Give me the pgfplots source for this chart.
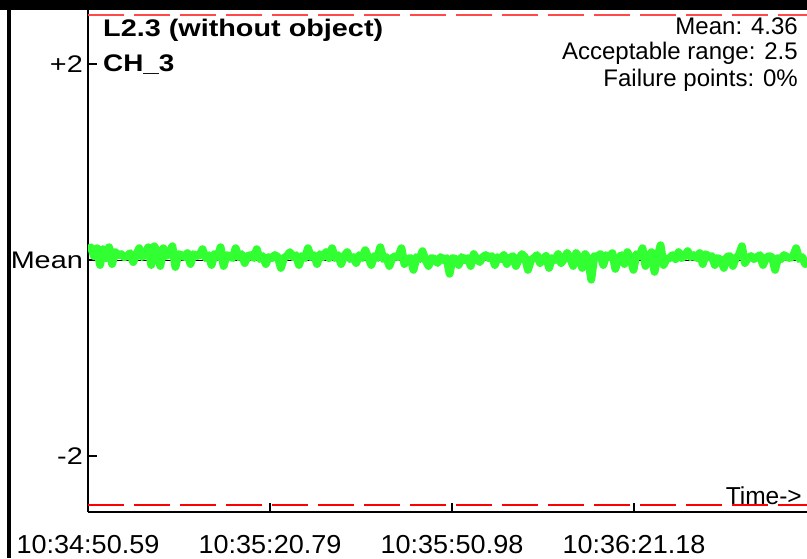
\documentclass[border=0pt]{standalone}
\usepackage{graphicx}
\usepackage{pgfplots}
\pgfplotsset{compat=1.18}
\usepackage{fontspec}
\setmainfont{Liberation Sans}
\definecolor{sig}{RGB}{50,255,50}
\definecolor{lim}{RGB}{255,40,40}
\newcommand{\sx}[2]{\scalebox{#1}[1]{#2}}
\pgfplotstableread{
x y
0.0 0.10
0.5 0.13
1.0 0.04
1.5 0.12
2.0 -0.05
2.5 0.11
3.0 0.02
3.5 0.13
4.0 -0.04
4.5 0.08
5.0 0.05
5.5 0.06
6.0 0.03
6.5 0.04
7.0 0.07
7.5 -0.02
8.0 0.05
8.5 0.12
9.0 0.03
9.5 0.06
10.0 0.13
10.5 -0.05
11.0 0.14
11.5 0.08
12.0 -0.06
12.5 0.12
13.0 0.04
13.5 0.07
14.0 0.14
14.5 -0.07
15.0 0.06
15.5 0.05
16.0 0.03
16.5 0.07
17.0 -0.04
17.5 0.06
18.0 0.04
18.5 0.05
19.0 0.11
19.5 0.02
20.0 0.05
20.5 -0.05
21.0 0.06
21.5 0.03
22.0 0.13
22.5 -0.06
23.0 0.05
23.5 0.04
24.0 0.02
24.5 0.12
25.0 0.03
25.5 0.06
26.0 -0.03
26.5 0.04
27.0 0.05
27.5 0.02
28.0 0.11
28.5 0.01
29.0 0.04
29.5 -0.04
30.0 0.03
30.5 0.02
31.0 0.05
31.5 0.03
32.0 -0.08
32.5 0.02
33.0 0.04
33.5 0.08
34.0 0.03
34.5 0.05
35.0 -0.05
35.5 0.04
36.0 0.02
36.5 0.12
37.0 0.03
37.5 0.05
38.0 -0.04
38.5 0.06
39.0 0.03
39.5 0.08
40.0 0.02
40.5 0.12
41.0 0.02
41.5 0.05
42.0 -0.04
42.5 0.04
43.0 0.08
43.5 0.01
44.0 0.03
44.5 -0.03
45.0 0.05
45.5 0.02
46.0 0.10
46.5 0.03
47.0 -0.05
47.5 0.04
48.0 0.02
48.5 0.13
49.0 0.01
49.5 0.03
50.0 -0.06
50.5 0.02
51.0 0.04
51.5 0.03
52.0 0.12
52.5 -0.04
53.0 0.01
53.5 0.02
54.0 -0.10
54.5 0.03
55.0 0.01
55.5 0.09
56.0 0.00
56.5 -0.06
57.0 0.02
57.5 0.01
58.0 -0.03
58.5 0.03
59.0 0.00
59.5 0.02
60.0 -0.14
60.5 0.02
61.0 0.01
61.5 -0.05
62.0 0.03
62.5 0.00
63.0 0.02
63.5 -0.06
64.0 0.06
64.5 0.01
65.0 -0.02
65.5 0.03
66.0 0.05
66.5 0.02
67.0 0.04
67.5 -0.05
68.0 0.03
68.5 0.01
69.0 0.05
69.5 -0.04
70.0 0.02
70.5 0.04
71.0 -0.06
71.5 0.01
72.0 0.06
72.5 0.03
73.0 -0.10
73.5 0.00
74.0 0.02
74.5 0.05
75.0 -0.03
75.5 0.01
76.0 0.04
76.5 -0.08
77.0 0.02
77.5 0.00
78.0 0.06
78.5 -0.03
79.0 0.01
79.5 0.07
80.0 0.02
80.5 -0.06
81.0 0.07
81.5 0.02
82.0 -0.08
82.5 0.06
83.0 0.01
83.5 -0.20
84.0 0.04
84.5 0.03
85.0 0.06
85.5 -0.05
86.0 0.05
86.5 0.03
87.0 0.07
87.5 -0.09
88.0 0.02
88.5 0.05
89.0 -0.04
89.5 0.08
90.0 0.02
90.5 -0.10
91.0 0.06
91.5 0.04
92.0 0.12
92.5 -0.06
93.0 0.02
93.5 0.08
94.0 -0.12
94.5 0.03
95.0 0.15
95.5 -0.05
96.0 0.01
96.5 0.02
97.0 0.05
97.5 0.01
98.0 0.08
98.5 0.02
99.0 0.04
99.5 0.09
100.0 0.03
100.5 0.05
101.0 0.02
101.5 0.07
102.0 -0.04
102.5 0.06
103.0 0.03
103.5 0.04
104.0 -0.05
104.5 0.02
105.0 0.00
105.5 -0.08
106.0 0.03
106.5 0.04
107.0 -0.06
107.5 0.02
108.0 0.05
108.5 0.14
109.0 -0.03
109.5 0.02
110.0 0.04
110.5 0.01
111.0 0.03
111.5 0.05
112.0 -0.05
112.5 0.02
113.0 0.04
113.5 0.03
114.0 -0.10
114.5 0.02
115.0 0.01
115.5 0.05
116.0 0.03
116.5 0.02
117.0 0.04
117.5 0.12
118.0 0.01
118.5 0.03
119.0 -0.04
119.5 0.02
}\sig
\begin{document}
\begin{tikzpicture}[x=1pt,y=1pt]
\clip (0,0) rectangle (807,558);
\begin{axis}[
  at={(88pt,46pt)}, anchor=south west,
  scale only axis, width=719pt, height=502pt,
  xmin=0, xmax=119.3, ymin=-2.571, ymax=2.551,
  axis x line=bottom, axis y line=left,
  axis line style={-, line width=2.6pt, black},
  clip=true,
  xtick={0,30.2,60.39,90.59},
  xticklabels={\sx{1.04}{10:34:50.59},\sx{1.04}{10:35:20.79},\sx{1.04}{10:35:50.98},\sx{1.04}{10:36:21.18}},
  ytick={-2,0,2},
  yticklabels={\sx{1.2}{-2},\sx{1.2}{Mean},\sx{1.2}{+2}},
  tick align=inside,
  major tick length=9pt,
  tick style={line width=2.6pt, black},
  xticklabel style={font=\fontsize{26}{26}\selectfont, anchor=base, inner sep=0pt, yshift=-41pt},
  yticklabel style={font=\fontsize{24}{24}\selectfont, anchor=east, inner sep=0pt, xshift=-5pt},
]
\addplot [black, line width=1pt] coordinates {(0,0) (119.3,0)};
\addplot [sig, line width=8pt, line join=round] table [x=x, y=y] {\sig};
\addplot [lim!85!white, line width=2pt, dash pattern=on 36pt off 10pt] coordinates {(0,2.5) (119.3,2.5)};
\addplot [red, line width=1.5pt, dash pattern=on 36pt off 10pt] coordinates {(0,-2.5) (119.3,-2.5)};
\end{axis}
\fill[black] (0,548) rectangle (807,558);
\fill[black] (7,0) rectangle (11,558);
\node[anchor=base west, inner sep=0pt, font=\fontsize{24}{24}\selectfont\bfseries] at (103,521) {\sx{1.2}{L2.3 (without object)}};
\node[anchor=base west, inner sep=0pt, font=\fontsize{24}{24}\selectfont\bfseries] at (103,486) {\sx{1.16}{CH\_3}};
\node[anchor=base east, inner sep=0pt, font=\fontsize{24}{24}\selectfont] at (798,523) {Mean: 4.36};
\node[anchor=base east, inner sep=0pt, font=\fontsize{24}{24}\selectfont] at (798,498) {Acceptable range: 2.5};
\node[anchor=base east, inner sep=0pt, font=\fontsize{24}{24}\selectfont] at (798,471) {Failure points: 0\%};
\node[anchor=base east, inner sep=0pt, font=\fontsize{24.5}{24.5}\selectfont] at (802,54) {Time->};
\end{tikzpicture}
\end{document}
